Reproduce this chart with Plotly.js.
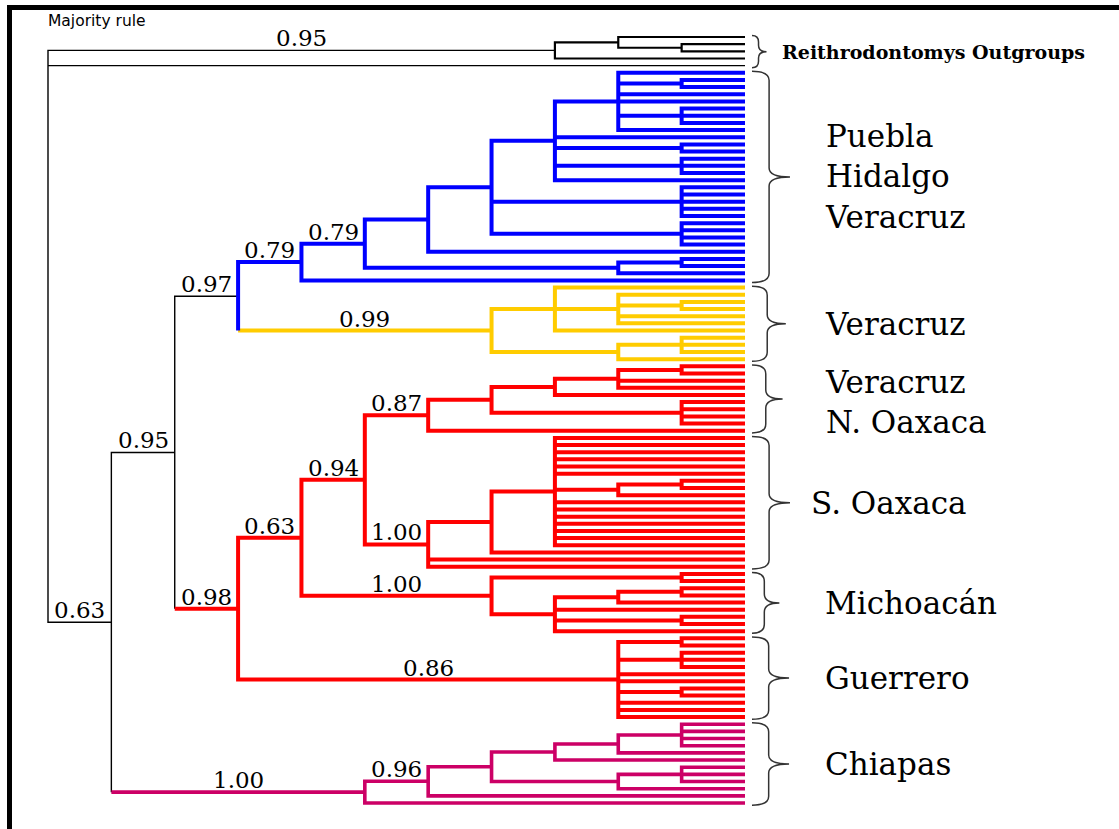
<!DOCTYPE html>
<html><head><meta charset="utf-8">
<script src="https://cdn.plot.ly/plotly-3.0.1.min.js"></script>
<style>html,body{margin:0;padding:0;background:#fff}</style>
</head><body><div id="chart" style="width:1119px;height:829px"></div>
<script>
// ---- Tree topology (Newick: "*" = terminal taxon, number after ")" = clade support) ----
const outgroupNewick = "((*,(*,*)),*)0.95";
const pueblaNewick   = "((((((*,(*,*),*,*,(*,*,*),*),*,(*,*),(*,*,*),*),(*,*,*,*,*),(*,*,*,*)),*),((*,*),*))0.79,*)0.79";
const veracruzNewick = "((*,(*,(*,*),*,*),*),((*,*,*),*))0.99";
const vnoNewick      = "(((((*,*),*,*),*),(*,*,*,*)),*)0.87";
const soaxNewick     = "(((*,*,*,*,*,*,((*,*),*),*,*,*,*,*,*,*),*),*,*)1.00";
const michNewick     = "((*,*),(((*,*),*),*,(*,*),*))1.00";
const guerNewick     = "((*,*),(*,*,*),*,*,(*,*),*,*,*)0.86";
const chiapasNewick  = "((((((*,*,*,*),*),*),((*,*,*),*)),*)0.96,*)1.00";
// supports of the deeper joining nodes
const supportBlueYellow = "0.97";
const supportRedInner   = "0.94";
const supportRedMid     = "0.63";
const supportRed        = "0.98";
const supportCore       = "0.95";
const supportIngroup    = "0.63";
// group labels
const groupLabels = ["Reithrodontomys Outgroups", "Puebla<br>Hidalgo<br>Veracruz", "Veracruz",
                     "Veracruz<br>N. Oaxaca", "S. Oaxaca", "Michoacán", "Guerrero", "Chiapas"];
const cornerLabel = "Majority rule";

// ---- styles ----
const styles = {
  out:    {color: "#000000", width: 2.2},
  base:   {color: "#000000", width: 1.4},
  blue:   {color: "#0000FF", width: 4},
  yellow: {color: "#FFCC00", width: 4},
  red:    {color: "#FF0000", width: 4},
  chia:   {color: "#CC0066", width: 3.6}
};

function parse(str) {
  let i = 0;
  function nodeAt() {
    let n;
    if (str[i] === "(") {
      i++;
      const children = [];
      for (;;) {
        children.push(nodeAt());
        if (str[i] === ",") { i++; continue; }
        i++; break;
      }
      n = {children};
    } else { i++; n = {children: []}; }
    let lab = "";
    while (i < str.length && /[0-9.]/.test(str[i])) lab += str[i++];
    n.label = lab;
    return n;
  }
  return nodeAt();
}
function paint(n, c) { n.color = c; n.children.forEach(ch => paint(ch, c)); return n; }
function join(children, label, color, stemColor) { return {children, label, color, stemColor}; }

const outgroup = paint(parse(outgroupNewick), "out"); outgroup.stemColor = "base";
const lone = {children: [], label: "", color: "base"};
const blue = paint(parse(pueblaNewick), "blue");
const yellow = paint(parse(veracruzNewick), "yellow");
const vno = paint(parse(vnoNewick), "red");
const soax = paint(parse(soaxNewick), "red");
const mich = paint(parse(michNewick), "red");
const guer = paint(parse(guerNewick), "red");
const chia = paint(parse(chiapasNewick), "chia");

const blueYellow = join([blue, yellow], supportBlueYellow, "blue", "base");
const redAll = join([join([join([vno, soax], supportRedInner, "red"), mich], supportRedMid, "red"), guer], supportRed, "red");
const core = join([blueYellow, redAll], supportCore, "base");
const ingroup = join([core, chia], supportIngroup, "base");
const root = join([outgroup, lone, ingroup], "", "base");

// ---- layout (cladogram by node height) ----
let tipIdx = 0;
function lay(n) {
  if (!n.children.length) { n.y = tipIdx++; n.h = 0; return; }
  n.children.forEach(c => { c.parent = n; lay(c); });
  n.h = 1 + Math.max(...n.children.map(c => c.h));
  n.y = (n.children[0].y + n.children[n.children.length - 1].y) / 2;
}
lay(root);
const H = root.h;
(function setX(n) { n.x = H - n.h; n.children.forEach(setX); })(root);

const segs = {};
function add(key, pts) { (segs[key] = segs[key] || []).push(pts); }
const sc = c => c.stemColor || c.color;
function draw(n) {
  if (!n.children.length) return;
  const kids = n.children, f = kids[0], l = kids[kids.length - 1];
  const fm = sc(f) === n.color, lm = sc(l) === n.color;
  const pts = [];
  if (fm) pts.push([f.x, f.y]);
  pts.push([n.x, f.y], [n.x, l.y]);
  if (lm) pts.push([l.x, l.y]);
  add(n.color, pts);
  kids.forEach((c, k) => {
    const merged = (k === 0 && fm) || (k === kids.length - 1 && lm);
    if (!merged) add(sc(c), [[n.x, c.y], [c.x, c.y]]);
    draw(c);
  });
}
draw(root);

const order = ["base", "out", "yellow", "blue", "red", "chia"];
const traces = order.filter(k => segs[k]).map(k => {
  const x = [], y = [];
  segs[k].forEach(p => { p.forEach(q => { x.push(q[0]); y.push(q[1]); }); x.push(null); y.push(null); });
  return {type: "scatter", mode: "lines", x, y, hoverinfo: "skip",
          line: {color: styles[k].color, width: styles[k].width}};
});

// ---- pixel <-> data mapping ----
const W = 1119, Hh = 829;
const rootPx = 48, tipPx = 745, firstTipPx = 37, lastTipPx = 803;
const xs = (tipPx - rootPx) / H;
const ys = (lastTipPx - firstTipPx) / (tipIdx - 1);
const pxX = p => (p - rootPx) / xs;
const pxY = p => (p - firstTipPx) / ys;

const annotations = [];
(function lab(n) {
  if (n.label && n.parent) {
    annotations.push({x: (n.parent.x + n.x) / 2, y: n.y, text: n.label, showarrow: false,
      xanchor: "center", yanchor: "bottom", yshift: -3,
      font: {family: "DejaVu Serif", size: 23, color: "#000"}});
  }
  n.children.forEach(lab);
})(root);

function tipRange(nodes) {
  let lo = Infinity, hi = -Infinity;
  (function walk(n) { if (!n.children.length) { lo = Math.min(lo, n.y); hi = Math.max(hi, n.y); } n.children.forEach(walk); })({children: nodes});
  return [lo, hi];
}
const groups = [[outgroup, lone], [blue], [yellow], [vno], [soax], [mich], [guer], [chia]];
const shapes = [];
groups.forEach((g, gi) => {
  const [a, b] = tipRange(g);
  const yT = a - 0.2, yB = b + 0.3, ym = (yT + yB) / 2;
  const spanPx = (yB - yT) * ys;
  const d = Math.min(38, spanPx * 0.45);
  const x0 = pxX(752), x1 = pxX(752 + d * 0.45), x2 = pxX(752 + d);
  const r = Math.min(9, spanPx / 5) / ys;
  const path = `M ${x0},${yT} Q ${x1},${yT} ${x1},${yT + r} L ${x1},${ym - r} Q ${x1},${ym} ${x2},${ym} ` +
               `Q ${x1},${ym} ${x1},${ym + r} L ${x1},${yB - r} Q ${x1},${yB} ${x0},${yB}`;
  shapes.push({type: "path", xref: "x", yref: "y", path, line: {color: "#333", width: 1.5}});
  if (gi === 0) {
    annotations.push({x: pxX(780), y: ym, text: "<b>" + groupLabels[gi] + "</b>", showarrow: false,
      xanchor: "left", yanchor: "middle", font: {family: "DejaVu Serif", size: 19, color: "#000"}});
  } else {
    annotations.push({x: pxX(gi === 4 ? 809 : 823), y: ym + (gi === 3 ? 0.5 : 0), text: groupLabels[gi], showarrow: false,
      xanchor: "left", yanchor: "middle", align: "left", font: {family: "DejaVu Serif", size: 31, color: "#000"}});
  }
});
annotations.push({xref: "paper", yref: "paper", x: 46 / W, y: 1 - 10 / Hh, text: cornerLabel, showarrow: false,
  xanchor: "left", yanchor: "top", font: {family: "DejaVu Sans", size: 15.5, color: "#000"}});

// frame
shapes.push({type: "line", xref: "paper", yref: "paper", x0: 9.5 / W, x1: 1.01, y0: 1 - 7.5 / Hh, y1: 1 - 7.5 / Hh, line: {color: "#000", width: 5}});
shapes.push({type: "line", xref: "paper", yref: "paper", x0: 9.5 / W, x1: 9.5 / W, y0: -0.01, y1: 1 - 5 / Hh, line: {color: "#000", width: 5}});

const layout = {
  width: W, height: Hh, margin: {l: 0, r: 0, t: 0, b: 0, pad: 0},
  paper_bgcolor: "#fff", plot_bgcolor: "#fff", showlegend: false,
  xaxis: {range: [pxX(0), pxX(W)], visible: false, fixedrange: true},
  yaxis: {range: [pxY(Hh), pxY(0)], visible: false, fixedrange: true},
  annotations, shapes
};
Plotly.newPlot("chart", traces, layout, {staticPlot: true, displayModeBar: false});
</script></body></html>
